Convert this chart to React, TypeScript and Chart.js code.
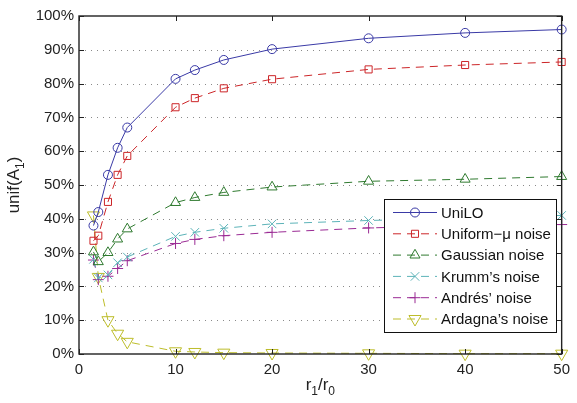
import React, { useEffect, useRef } from 'react';
import { Chart, registerables } from 'chart.js';

Chart.register(...registerables);

const xValues = [1.5, 2, 3, 4, 5, 10, 12, 15, 20, 30, 40, 50];
const uniLO = [38, 42, 53, 61, 67, 81.4, 84, 87, 90.2, 93.4, 95, 96];
const uniformMu = [33.5, 35, 45, 53, 58.6, 73, 75.7, 78.6, 81.3, 84.2, 85.5, 86.4];
const gaussian = [30.2, 27.3, 30, 34, 37, 44.8, 46.3, 47.8, 49.4, 51.1, 51.7, 52.5];
const krumm = [28, 22.5, 23.4, 27, 28.7, 34.8, 36, 37.2, 38.5, 39.5, 40.2, 41];
const andres = [27.8, 22, 23, 25.3, 27.6, 32.7, 33.9, 35, 36, 37.3, 38, 38.3];
const ardagna = [41, 22.8, 10, 6, 3.6, 0.8, 0.6, 0.4, 0.3, 0.2, 0.1, 0.1];

const seriesLabels = [
  'UniLO',
  'Uniform\u2212\u03bc noise',
  'Gaussian noise',
  'Krumm\u2019s noise',
  'Andr\u00e9s\u2019 noise',
  'Ardagna\u2019s noise',
];
const seriesColors = ['#3a3aa6', '#cc2528', '#2f7a2f', '#5cb3b8', '#9a2a94', '#bdbd2a'];
const seriesMarkers = ['circle', 'rect', 'triangle', 'crossRot', 'cross', 'triangle'];
const seriesRotation = [0, 0, 0, 0, 0, 180];
const seriesRadius = [4.5, 5, 5.8, 6, 5.5, 7];
const seriesData = [uniLO, uniformMu, gaussian, krumm, andres, ardagna];

const yTicks = [0, 10, 20, 30, 40, 50, 60, 70, 80, 90, 100];
const xTicks = [0, 10, 20, 30, 40, 50];

const FONT = '"Liberation Sans", Arial, Helvetica, sans-serif';

function drawMarker(ctx: CanvasRenderingContext2D, style: string, x: number, y: number, r: number, rot: number) {
  ctx.beginPath();
  if (style === 'circle') {
    ctx.arc(x, y, r, 0, Math.PI * 2);
  } else if (style === 'rect') {
    const s = r * Math.SQRT1_2;
    ctx.rect(x - s, y - s, 2 * s, 2 * s);
  } else if (style === 'triangle') {
    let rad = (rot * Math.PI) / 180;
    ctx.moveTo(x + Math.sin(rad) * r, y - Math.cos(rad) * r);
    rad += (2 * Math.PI) / 3;
    ctx.lineTo(x + Math.sin(rad) * r, y - Math.cos(rad) * r);
    rad += (2 * Math.PI) / 3;
    ctx.lineTo(x + Math.sin(rad) * r, y - Math.cos(rad) * r);
    ctx.closePath();
  } else if (style === 'crossRot') {
    const o = r * Math.SQRT1_2;
    ctx.moveTo(x - o, y - o);
    ctx.lineTo(x + o, y + o);
    ctx.moveTo(x - o, y + o);
    ctx.lineTo(x + o, y - o);
  } else if (style === 'cross') {
    ctx.moveTo(x - r, y);
    ctx.lineTo(x + r, y);
    ctx.moveTo(x, y - r);
    ctx.lineTo(x, y + r);
  }
  ctx.stroke();
}

const decorPlugin = {
  id: 'decor',
  beforeDatasetsDraw(chart: any) {
    const { ctx, chartArea: a, scales } = chart;
    ctx.save();
    ctx.strokeStyle = '#8a8a8a';
    ctx.lineWidth = 1;
    ctx.setLineDash([1, 5]);
    yTicks.forEach((v) => {
      if (v === 0 || v === 100) return;
      const y = Math.round(scales.y.getPixelForValue(v)) + 0.5;
      ctx.beginPath();
      ctx.moveTo(a.left, y);
      ctx.lineTo(a.right, y);
      ctx.stroke();
    });
    ctx.restore();
  },
  afterDatasetsDraw(chart: any) {
    const { ctx, chartArea: a, scales } = chart;
    ctx.save();
    ctx.strokeStyle = '#222222';
    ctx.lineWidth = 1.4;
    ctx.setLineDash([]);
    ctx.strokeRect(a.left, a.top, a.right - a.left, a.bottom - a.top);
    const tl = 5;
    ctx.lineWidth = 1;
    xTicks.forEach((v) => {
      const x = Math.round(scales.x.getPixelForValue(v)) + 0.5;
      ctx.beginPath();
      ctx.moveTo(x, a.bottom);
      ctx.lineTo(x, a.bottom - tl);
      ctx.moveTo(x, a.top);
      ctx.lineTo(x, a.top + tl);
      ctx.stroke();
    });
    yTicks.forEach((v) => {
      const y = Math.round(scales.y.getPixelForValue(v)) + 0.5;
      ctx.beginPath();
      ctx.moveTo(a.left, y);
      ctx.lineTo(a.left + tl, y);
      ctx.moveTo(a.right, y);
      ctx.lineTo(a.right - tl, y);
      ctx.stroke();
    });
    ctx.restore();
  },
  afterDraw(chart: any) {
    const { ctx, chartArea: a } = chart;
    ctx.save();
    // Legend
    const bx = 384.5, by = 199.5, bw = 172, bh = 133;
    ctx.fillStyle = '#ffffff';
    ctx.fillRect(bx, by, bw, bh);
    ctx.strokeStyle = '#111111';
    ctx.lineWidth = 1;
    ctx.setLineDash([]);
    ctx.strokeRect(bx, by, bw, bh);
    ctx.font = '15px ' + FONT;
    ctx.textBaseline = 'middle';
    ctx.textAlign = 'left';
    seriesLabels.forEach((label, i) => {
      const y = 212.5 + i * 21.3;
      ctx.strokeStyle = seriesColors[i];
      ctx.lineWidth = 1;
      ctx.setLineDash(i === 0 ? [] : [8, 6]);
      ctx.beginPath();
      ctx.moveTo(393, y);
      ctx.lineTo(437, y);
      ctx.stroke();
      ctx.setLineDash([]);
      drawMarker(ctx, seriesMarkers[i], 415, y, seriesRadius[i], seriesRotation[i]);
      ctx.fillStyle = '#111111';
      ctx.fillText(label, 441, y + 1);
    });

    // Axis titles
    ctx.fillStyle = '#222222';
    ctx.textBaseline = 'alphabetic';
    const big = '17px ' + FONT;
    const small = '12px ' + FONT;
    // X title: r1/r0
    const xParts: [string, boolean][] = [['r', false], ['1', true], ['/r', false], ['0', true]];
    let total = 0;
    xParts.forEach(([t, s]) => {
      ctx.font = s ? small : big;
      total += ctx.measureText(t).width;
    });
    let cx = (a.left + a.right) / 2 - total / 2;
    const baseX = 390;
    xParts.forEach(([t, s]) => {
      ctx.font = s ? small : big;
      ctx.fillText(t, cx, s ? baseX + 5 : baseX);
      cx += ctx.measureText(t).width;
    });
    // Y title: unif(A1)
    const yParts: [string, boolean][] = [['unif(A', false], ['1', true], [')', false]];
    total = 0;
    yParts.forEach(([t, s]) => {
      ctx.font = s ? small : big;
      total += ctx.measureText(t).width;
    });
    ctx.translate(19, (a.top + a.bottom) / 2);
    ctx.rotate(-Math.PI / 2);
    let lx = -total / 2;
    yParts.forEach(([t, s]) => {
      ctx.font = s ? small : big;
      ctx.fillText(t, lx, s ? 5 : 0);
      lx += ctx.measureText(t).width;
    });
    ctx.restore();
  },
};

export default function App() {
  const canvasRef = useRef<HTMLCanvasElement | null>(null);

  useEffect(() => {
    document.body.style.margin = '0';
    const canvas = canvasRef.current;
    if (!canvas) return;
    const datasets = seriesData.map((d, i) => ({
      label: seriesLabels[i],
      data: xValues.map((x, j) => ({ x, y: d[j] })),
      borderColor: seriesColors[i],
      backgroundColor: 'rgba(0,0,0,0)',
      borderWidth: 1,
      borderDash: i === 0 ? [] : [8, 6],
      pointStyle: seriesMarkers[i],
      pointRotation: seriesRotation[i],
      pointRadius: seriesRadius[i],
      pointBorderColor: seriesColors[i],
      pointBackgroundColor: 'rgba(0,0,0,0)',
      pointBorderWidth: 1,
      pointHoverRadius: seriesRadius[i],
      tension: 0,
      fill: false,
      clip: false as any,
      order: i,
    }));
    const chart = new Chart(canvas, {
      type: 'line',
      data: { datasets },
      options: {
        animation: false,
        responsive: true,
        maintainAspectRatio: false,
        layout: { padding: { left: 0, right: 9, top: 16, bottom: 0 } },
        plugins: { legend: { display: false }, tooltip: { enabled: false } },
        scales: {
          x: {
            type: 'linear',
            min: 0,
            max: 50,
            afterBuildTicks: (scale: any) => {
              scale.ticks = xTicks.map((v) => ({ value: v }));
            },
            afterFit: (scale: any) => {
              scale.height = 49;
            },
            grid: { display: false, drawTicks: false },
            border: { display: false },
            ticks: {
              padding: 7,
              color: '#222222',
              font: { family: FONT, size: 15 },
              maxRotation: 0,
            },
          },
          y: {
            type: 'linear',
            min: 0,
            max: 100,
            afterBuildTicks: (scale: any) => {
              scale.ticks = yTicks.map((v) => ({ value: v }));
            },
            afterFit: (scale: any) => {
              scale.width = 79;
            },
            grid: { display: false, drawTicks: false },
            border: { display: false },
            ticks: {
              padding: 5,
              color: '#222222',
              font: { family: FONT, size: 15 },
              callback: (v: any) => v + '%',
            },
          },
        },
      },
      plugins: [decorPlugin],
    });
    return () => chart.destroy();
  }, []);

  return (
    <div style={{ position: 'fixed', left: 0, top: 0, width: 577, height: 403, background: '#ffffff' }}>
      <canvas ref={canvasRef} />
    </div>
  );
}
